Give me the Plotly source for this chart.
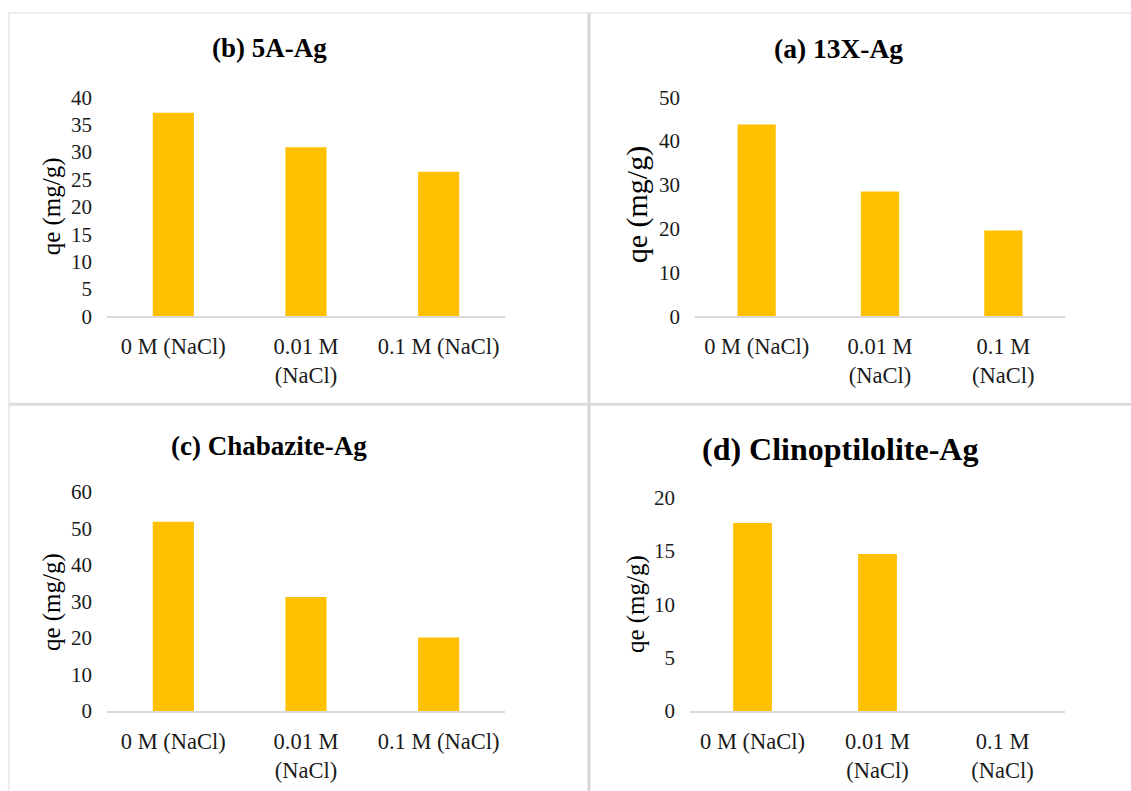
import plotly.graph_objects as go

# Adsorption capacity of Ag-exchanged zeolites at three NaCl concentrations
categories = ["0 M (NaCl)", "0.01 M (NaCl)", "0.1 M (NaCl)"]
labels_wide = ["0 M (NaCl)", "0.01 M<br>(NaCl)", "0.1 M (NaCl)"]
labels_narrow = ["0 M (NaCl)", "0.01 M<br>(NaCl)", "0.1 M<br>(NaCl)"]

qe_5a = [37.2, 30.9, 26.4]
qe_13x = [43.8, 28.5, 19.6]
qe_chabazite = [51.8, 31.2, 20.1]
qe_clinoptilolite = [17.6, 14.7, 0.0]

titles = ["(b) 5A-Ag", "(a) 13X-Ag", "(c) Chabazite-Ag", "(d) Clinoptilolite-Ag"]
y_max = [40, 50, 60, 20]
y_step = [5, 10, 10, 5]

W, H = 1131, 803
# vertical layout grid: y positions below are given on a 791-unit sheet
SHEET_OFF, SHEET_SCALE = 11.6, 0.9706
BAR = "#FFC000"
FONT = "Liberation Serif"


def px_x(x):
    return x / W


def px_y(y):
    return 1 - ((y - SHEET_OFF) / SHEET_SCALE) / H


# panel layout: (left, right, top, bottom) of each plotting area
areas = [
    (107, 505, 97, 316),
    (695, 1065, 97, 316),
    (107, 505, 491.7, 711),
    (690, 1065, 497.3, 711),
]
series = [qe_5a, qe_13x, qe_chabazite, qe_clinoptilolite]
ticktext = [labels_wide, labels_narrow, labels_wide, labels_narrow]
title_pos = [(269, 48, 27), (838, 48, 27.5), (269, 446, 27), (840, 449, 32)]
ylab_pos = [(52, 206, 25), (637, 205, 30), (52, 602, 25), (636, 604, 25)]

fig = go.Figure()

for i, (vals, area) in enumerate(zip(series, areas)):
    n = "" if i == 0 else str(i + 1)
    xa, ya = "x" + n, "y" + n
    fig.add_trace(go.Bar(
        x=categories, y=vals, xaxis=xa, yaxis=ya,
        width=0.31, marker=dict(color=BAR, line=dict(width=0)),
        showlegend=False, hoverinfo="x+y",
    ))
    l, r, t, b = area
    fig.layout["xaxis" + n] = dict(
        domain=[px_x(l), px_x(r)], anchor=ya,
        type="category", range=[-0.5, 2.5],
        tickmode="array", tickvals=categories, ticktext=ticktext[i],
        tickangle=0, ticks="", ticklabelstandoff=9,
        showline=True, linecolor="#D9D9D9", linewidth=2,
        showgrid=False, zeroline=False,
        tickfont=dict(family=FONT, size=22.5, color="#1a1a1a"),
    )
    fig.layout["yaxis" + n] = dict(
        domain=[px_y(b), px_y(t)], anchor=xa,
        range=[0, y_max[i]], dtick=y_step[i], tick0=0,
        ticks="", ticklabelstandoff=14,
        showline=False, showgrid=False, zeroline=False,
        tickfont=dict(family=FONT, size=21, color="#1a1a1a"),
    )

annotations = []
for (tx, ty, ts), text in zip(title_pos, titles):
    annotations.append(dict(
        x=px_x(tx), y=px_y(ty), xref="paper", yref="paper",
        text="<b>" + text + "</b>", showarrow=False,
        xanchor="center", yanchor="middle",
        font=dict(family=FONT, size=ts, color="#000000"),
    ))
for lx, ly, ls in ylab_pos:
    annotations.append(dict(
        x=px_x(lx), y=px_y(ly), xref="paper", yref="paper",
        text="qe (mg/g)", showarrow=False, textangle=-90,
        xanchor="center", yanchor="middle",
        font=dict(family=FONT, size=ls, color="#000000"),
    ))

# frame around the four panels and the dividers between them
shapes = [
    dict(type="line", xref="paper", yref="paper",
         x0=px_x(8), x1=1, y0=px_y(12.6), y1=px_y(12.6),
         line=dict(color="#EDEDED", width=2)),
    dict(type="line", xref="paper", yref="paper",
         x0=px_x(9), x1=px_x(9), y0=px_y(12.6), y1=0,
         line=dict(color="#EDEDED", width=2)),
    dict(type="line", xref="paper", yref="paper",
         x0=px_x(9), x1=1, y0=px_y(404), y1=px_y(404),
         line=dict(color="#DDDDDD", width=3)),
    dict(type="line", xref="paper", yref="paper",
         x0=px_x(589), x1=px_x(589), y0=px_y(12.6), y1=0,
         line=dict(color="#D6D6D6", width=3)),
]

fig.update_layout(
    width=W, height=H,
    margin=dict(l=0, r=0, t=0, b=0),
    paper_bgcolor="white", plot_bgcolor="white",
    font=dict(family=FONT),
    annotations=annotations, shapes=shapes,
    bargap=0.69,
)

fig.write_html("out.html")
